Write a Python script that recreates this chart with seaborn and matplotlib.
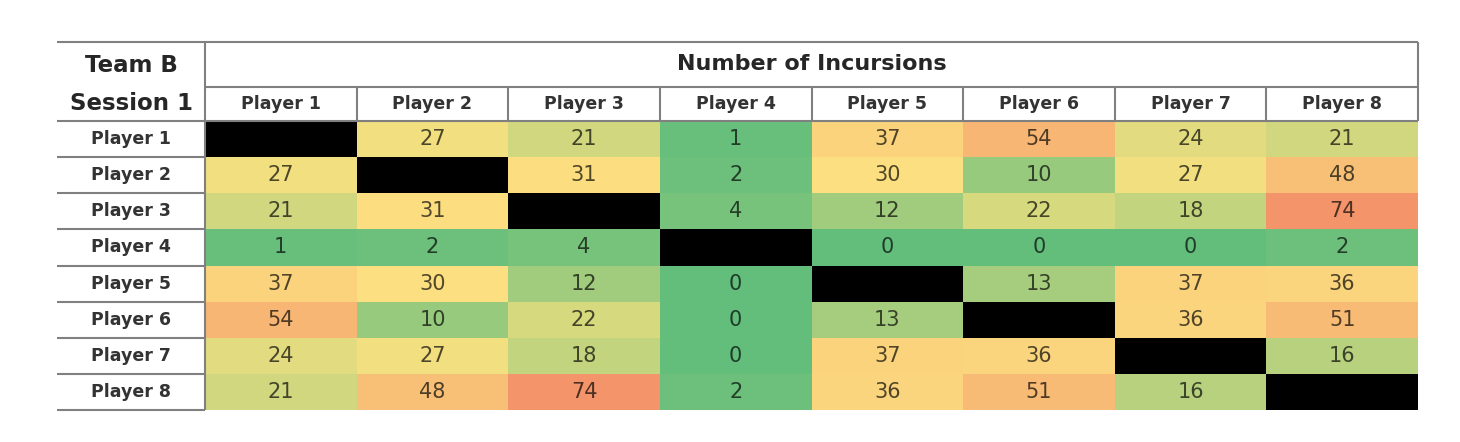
import matplotlib
matplotlib.use('Agg')
import matplotlib.pyplot as plt
from matplotlib.colors import LinearSegmentedColormap
import numpy as np
import pandas as pd
import seaborn as sns

# ---- data -------------------------------------------------------------
players = ['Player 1', 'Player 2', 'Player 3', 'Player 4',
           'Player 5', 'Player 6', 'Player 7', 'Player 8']
corner_title = ['Team B', 'Session 1']
header_title = 'Number of Incursions'

# incursions between players (diagonal left empty)
p1 = [None, 27, 21, 1, 37, 54, 24, 21]
p2 = [27, None, 31, 2, 30, 10, 27, 48]
p3 = [21, 31, None, 4, 12, 22, 18, 74]
p4 = [1, 2, 4, None, 0, 0, 0, 2]
p5 = [37, 30, 12, 0, None, 13, 37, 36]
p6 = [54, 10, 22, 0, 13, None, 36, 51]
p7 = [24, 27, 18, 0, 37, 36, None, 16]
p8 = [21, 48, 74, 2, 36, 51, 16, None]

df = pd.DataFrame([p1, p2, p3, p4, p5, p6, p7, p8],
                  index=players, columns=players, dtype=float)

# ---- style ------------------------------------------------------------
sns.set_style('white')
plt.rcParams['font.family'] = ['DejaVu Sans']

vmin, vmax = 0, 74
cmap = LinearSegmentedColormap.from_list(
    'excel_scale',
    [(0.0, '#63BE7B'), (29 / 74, '#FCE180'), (1.0, '#F3946A')])
cmap.set_bad('black')

fig = plt.figure(figsize=(14.6, 4.42), dpi=100)
W, H = 1460, 442
ax = fig.add_axes([205 / W, (H - 410) / H, 1213 / W, 289 / H])
ax.set_facecolor('black')

sns.heatmap(df, cmap=cmap, vmin=vmin, vmax=vmax, annot=True, fmt='.0f',
            cbar=False, ax=ax, xticklabels=False, yticklabels=False,
            annot_kws={'fontsize': 15})

# darker shade of each cell colour for its number
norm = plt.Normalize(vmin, vmax)
for t in ax.texts:
    x, y = t.get_position()
    val = df.iloc[int(y), int(x)]
    rgb = np.array(cmap(norm(val))[:3])
    t.set_color(tuple(rgb * 0.32))

# ---- table frame ------------------------------------------------------
col_w = 1213 / 8
row_h = 289 / 8
left = (57 - 205) / col_w
hdr2 = -(121 - 87) / row_h
top = -(121 - 42) / row_h
line_kw = dict(color='#808080', lw=1.5, clip_on=False, solid_capstyle='butt')

ax.plot([left, 8], [top, top], **line_kw)
ax.plot([0, 8], [hdr2, hdr2], **line_kw)
ax.plot([left, 8], [0, 0], **line_kw)
for i in range(1, 9):
    ax.plot([left, 0], [i, i], **line_kw)
ax.plot([0, 0], [top, 8], **line_kw)
ax.plot([8, 8], [top, 0], **line_kw)
for j in range(1, 8):
    ax.plot([j, j], [hdr2, 0], **line_kw)

# ---- labels -----------------------------------------------------------
mid_left = left / 2
ax.text(mid_left, -(121 - 65) / row_h, corner_title[0], ha='center', va='center',
        fontsize=16.5, fontweight='bold', color='#262626', clip_on=False)
ax.text(mid_left, -(121 - 103) / row_h, corner_title[1], ha='center', va='center',
        fontsize=16.5, fontweight='bold', color='#262626', clip_on=False)
ax.text(4, -(121 - 64) / row_h, header_title, ha='center', va='center',
        fontsize=16, fontweight='bold', color='#262626', clip_on=False)
for j, name in enumerate(players):
    ax.text(j + 0.5, hdr2 / 2, name, ha='center', va='center',
            fontsize=12.5, fontweight='bold', color='#333333', clip_on=False)
for i, name in enumerate(players):
    ax.text(mid_left, i + 0.5, name, ha='center', va='center',
            fontsize=12.5, fontweight='bold', color='#333333', clip_on=False)

ax.set_xlabel('')
ax.set_ylabel('')
for s in ax.spines.values():
    s.set_visible(False)

fig.savefig('out.png', dpi=100)
